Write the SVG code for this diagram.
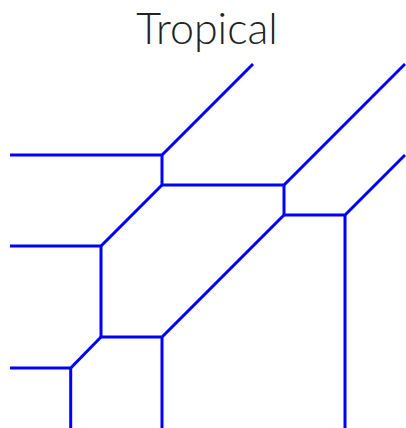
<svg xmlns="http://www.w3.org/2000/svg" width="406" height="428" viewBox="0 0 406 428">
<style>
.e{stroke:#0000ff;stroke-width:3;fill:none;stroke-linecap:butt;stroke-linejoin:miter}
.t{font-family:Lato,"Open Sans","Liberation Sans",sans-serif;font-weight:300;font-size:43px;fill:#222;text-anchor:middle}
</style>
<rect width="406" height="428" fill="#fff"/>
<g id="title"><text class="t" x="207" y="44">Tropical</text></g>
<g id="connectors">
<path class="e" d="M10,155H162L253,64"/>
<path class="e" d="M162,155V185H284L405,64"/>
<path class="e" d="M284,185V215H345L405,155"/>
<path class="e" d="M345,215V428"/>
<path class="e" d="M162,185L101,246H10"/>
<path class="e" d="M101,246V337H162L284,215"/>
<path class="e" d="M162,337V428"/>
<path class="e" d="M101,337L70.7,368H10"/>
<path class="e" d="M70.7,368V428"/>
</g>
</svg>
